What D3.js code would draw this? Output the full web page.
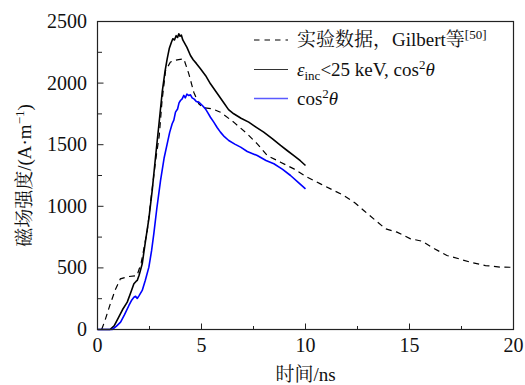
<!DOCTYPE html>
<html>
<head>
<meta charset="utf-8">
<script src="https://cdn.jsdelivr.net/npm/d3@7"></script>
</head>
<body style="margin:0;background:#fff">
<svg id="chart" width="525" height="385"></svg>
<script>
// Measured field (Gilbert et al.) — time in ns, field in A/m
const expTime = [0.2, 0.36, 0.6, 0.85, 1.1, 1.5, 1.9, 2.1, 2.39, 2.6, 2.8, 2.97, 3.1, 3.27, 3.5, 3.67, 3.9, 4.15, 4.39, 4.63, 4.87, 5.1, 5.51, 5.91, 6.55, 7.2, 7.68, 8.16, 8.8, 9.44, 10.08, 10.72, 11.84, 12.4, 12.8, 13.37, 13.85, 14.4, 15.05, 15.6, 16.2, 16.8, 17.37, 17.93, 18.65, 19.4, 20];
const expField = [0, 73, 200, 320, 411, 430, 438, 540, 800, 1100, 1380, 1575, 1850, 2100, 2170, 2183, 2190, 2197, 2075, 1926, 1832, 1800, 1791, 1764, 1683, 1588, 1507, 1412, 1358, 1304, 1236, 1182, 1088, 1025, 966, 885, 817, 790, 736, 717, 655, 601, 574, 546, 519, 506, 505];

// Simulation, incident energy < 25 keV with cos^2 theta distribution
const simCutTime = [0, 0.3, 0.6, 0.8, 1.02, 1.2, 1.43, 1.6, 1.75, 1.85, 1.91, 2.0, 2.15, 2.31, 2.47, 2.63, 2.79, 2.95, 3.11, 3.25, 3.35, 3.45, 3.55, 3.62, 3.7, 3.78, 3.85, 3.91, 3.97, 4.03, 4.1, 4.2, 4.3, 4.47, 4.6, 4.75, 4.95, 5.2, 5.43, 5.7, 6.07, 6.3, 6.55, 6.9, 7.27, 7.6, 7.99, 8.4, 8.8, 9.1, 9.44, 9.75, 10.0];
const simCutField = [0, 0, 0, 30, 100, 160, 222, 300, 371, 390, 398, 440, 533, 722, 900, 1130, 1400, 1660, 1926, 2100, 2197, 2280, 2330, 2360, 2350, 2385, 2370, 2400, 2380, 2390, 2350, 2320, 2290, 2224, 2190, 2160, 2116, 2060, 1994, 1930, 1840, 1785, 1751, 1715, 1683, 1645, 1602, 1550, 1494, 1455, 1412, 1370, 1331];

// Simulation, cos^2 theta distribution only
const simCosTime = [0, 0.4, 0.7, 0.9, 1.11, 1.3, 1.51, 1.65, 1.75, 1.83, 1.91, 2.0, 2.15, 2.3, 2.47, 2.6, 2.71, 2.85, 3.03, 3.2, 3.35, 3.47, 3.59, 3.67, 3.75, 3.85, 3.92, 3.99, 4.07, 4.15, 4.22, 4.3, 4.39, 4.47, 4.55, 4.65, 4.75, 4.87, 5.03, 5.19, 5.3, 5.43, 5.59, 5.75, 5.91, 6.1, 6.31, 6.6, 6.88, 7.2, 7.68, 8.1, 8.48, 8.9, 9.28, 9.65, 10.0];
const simCosField = [0, 0, 0, 25, 60, 120, 195, 240, 262, 270, 252, 275, 317, 400, 506, 640, 780, 980, 1209, 1390, 1507, 1600, 1670, 1700, 1764, 1790, 1840, 1859, 1872, 1900, 1880, 1910, 1899, 1905, 1880, 1870, 1850, 1845, 1820, 1791, 1760, 1723, 1683, 1640, 1602, 1565, 1534, 1505, 1480, 1445, 1412, 1372, 1345, 1300, 1250, 1195, 1142];

const xTicks = [0, 5, 10, 15, 20];
const yTicks = [0, 500, 1000, 1500, 2000, 2500];

const SERIF = "\"Liberation Serif\", monospace";
const CJK = "\"Noto Serif CJK SC\", monospace";

const svg = d3.select("#chart");
const L = 97.5, R = 513.5, T = 21.5, B = 329.5;

const x = d3.scaleLinear().domain([0, 20]).range([L, R]);
const y = d3.scaleLinear().domain([0, 2500]).range([B, T]);

const zip = (ts, vs) => ts.map((t, i) => [t, vs[i]]);
const line = d3.line().x(d => x(d[0])).y(d => y(d[1]));

// curves
const plot = svg.append("g");
plot.append("path").datum(zip(expTime, expField))
  .attr("d", line).attr("fill", "none").attr("stroke", "#000")
  .attr("stroke-width", 1.2).attr("stroke-dasharray", "6,4.5");
plot.append("path").datum(zip(simCutTime, simCutField))
  .attr("d", line).attr("fill", "none").attr("stroke", "#000")
  .attr("stroke-width", 1.6).attr("stroke-linejoin", "round");
plot.append("path").datum(zip(simCosTime, simCosField))
  .attr("d", line).attr("fill", "none").attr("stroke", "#0000ff")
  .attr("stroke-width", 1.6).attr("stroke-linejoin", "round");

// frame
svg.append("rect").attr("x", L).attr("y", T).attr("width", R - L).attr("height", B - T)
  .attr("fill", "none").attr("stroke", "#222").attr("stroke-width", 1.2);

// inward ticks on the bottom and left edges
const tg = svg.append("g");
d3.range(0, 20.01, 2.5).forEach(v => {
  const major = v % 5 === 0;
  tg.append("line").attr("x1", x(v)).attr("x2", x(v))
    .attr("y1", B).attr("y2", B - (major ? 6 : 3.5))
    .attr("stroke", "#222").attr("stroke-width", 1);
});
d3.range(0, 2500.1, 250).forEach(v => {
  tg.append("line").attr("x1", L).attr("x2", L + (v % 500 === 0 ? 6 : 4.5))
    .attr("y1", y(v)).attr("y2", y(v))
    .attr("stroke", "#222").attr("stroke-width", 1);
});

// each text node and tspan carries its own font family
function txt(sel, size) {
  return sel.attr("font-size", size).style("font-family", SERIF).attr("fill", "#111");
}
function span(parent, str, opts = {}) {
  const s = parent.append("tspan").style("font-family", opts.cjk ? CJK : SERIF);
  if (opts.size) s.attr("font-size", opts.size);
  if (opts.italic) s.attr("font-style", "italic");
  if (opts.dy) s.attr("dy", opts.dy);
  return s.text(str);
}

// tick labels
txt(svg.append("g").selectAll("text").data(xTicks).join("text")
  .attr("x", d => x(d)).attr("y", 352).attr("text-anchor", "middle"), 20)
  .text(d => d);
txt(svg.append("g").selectAll("text").data(yTicks).join("text")
  .attr("x", 87).attr("y", d => y(d) + 6.5).attr("text-anchor", "end"), 20)
  .text(d => d);

// axis titles
const xt = txt(svg.append("text").attr("x", (L + R) / 2).attr("y", 381).attr("text-anchor", "middle"), 19);
span(xt, "时间", { cjk: true });
span(xt, "/ns");

const yt = txt(svg.append("text").attr("transform", `translate(31,${(T + B) / 2}) rotate(-90)`)
  .attr("text-anchor", "middle"), 19);
span(yt, "磁场强度", { cjk: true });
span(yt, "/(A·m");
span(yt, "−1", { size: 13, dy: -7 });
span(yt, ")", { dy: 7 });

// legend
const lg = svg.append("g");
const rows = [40, 69.5, 98.5];
lg.append("line").attr("x1", 254).attr("x2", 288).attr("y1", rows[0]).attr("y2", rows[0])
  .attr("stroke", "#000").attr("stroke-width", 1.1).attr("stroke-dasharray", "5.5,5");
lg.append("line").attr("x1", 254).attr("x2", 288).attr("y1", rows[1]).attr("y2", rows[1])
  .attr("stroke", "#333").attr("stroke-width", 1.1);
lg.append("line").attr("x1", 254).attr("x2", 288).attr("y1", rows[2]).attr("y2", rows[2])
  .attr("stroke", "#5a5aff").attr("stroke-width", 1.3);

const t1 = txt(lg.append("text").attr("x", 297).attr("y", rows[0] + 6), 19);
span(t1, "实验数据，", { cjk: true });
span(t1, "Gilbert");
span(t1, "等", { cjk: true });
span(t1, "[50]", { size: 13, dy: -7 });

const t2 = txt(lg.append("text").attr("x", 297).attr("y", rows[1] + 6), 19);
span(t2, "ε", { italic: true });
span(t2, "inc", { size: 13, dy: 4 });
span(t2, "<25 keV, cos", { dy: -4 });
span(t2, "2", { size: 13, dy: -7 });
span(t2, "θ", { italic: true, dy: 7 });

const t3 = txt(lg.append("text").attr("x", 297).attr("y", rows[2] + 6), 19);
span(t3, "cos");
span(t3, "2", { size: 13, dy: -7 });
span(t3, "θ", { italic: true, dy: 7 });
</script>
</body>
</html>
